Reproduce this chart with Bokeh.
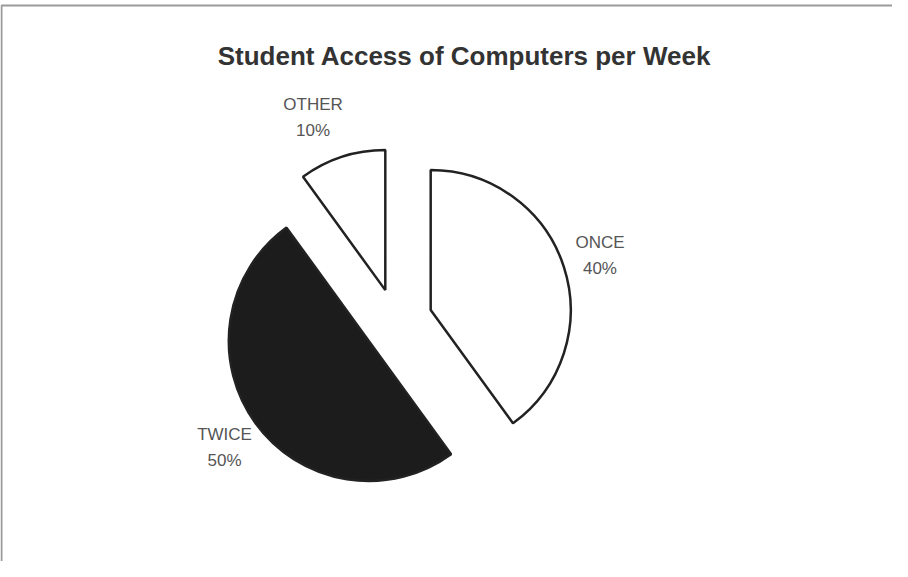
import math
from bokeh.plotting import figure
from bokeh.models import ColumnDataSource, Range1d
from bokeh.core.properties import value
from bokeh.embed import file_html
from bokeh.resources import INLINE

# ---- data ----
title = "Student Access of Computers per Week"
categories = ["ONCE", "TWICE", "OTHER"]
percents = [40, 50, 10]
fills = ["#ffffff", "#1c1c1c", "#ffffff"]

# ---- layout / style ----
W, H = 892, 561
cx, cy = 395, 240          # pie centre (data units = pixels)
radius = 140
explode = [37, 33, 33]
label_r = 215
label_dx = [0, 3, -16]

total = float(sum(percents))
starts, ends, xs, ys, lx, ly = [], [], [], [], [], []
cum = 0.0
for i, v in enumerate(percents):
    f0 = cum / total
    f1 = (cum + v) / total
    cum += v
    a_start = math.radians(90 - f1 * 360)
    a_end = math.radians(90 - f0 * 360)
    mid = (a_start + a_end) / 2
    starts.append(a_start)
    ends.append(a_end)
    xs.append(cx + explode[i] * math.cos(mid))
    ys.append(cy + explode[i] * math.sin(mid))
    lx.append(cx + label_r * math.cos(mid) + label_dx[i])
    ly.append(cy + label_r * math.sin(mid))

src = ColumnDataSource(dict(x=xs, y=ys, start=starts, end=ends, fill=fills,
                            cat=categories, pct=[f"{v}%" for v in percents],
                            lx=lx, ly_top=[y + 13 for y in ly], ly_bot=[y - 13 for y in ly]))

p = figure(width=W, height=H, output_backend="svg", toolbar_location=None,
           x_range=Range1d(0, W), y_range=Range1d(0, H), min_border=0)
p.axis.visible = False
p.grid.visible = False
p.outline_line_color = None
p.background_fill_color = "white"

# frame (top and left edges of the scanned box)
p.line([1, 1, W], [0, H - 5, H - 5], line_color="#9a9a9a", line_width=2)

p.wedge(x="x", y="y", radius=radius, start_angle="start", end_angle="end",
        fill_color="fill", line_color="#222222", line_width=2.5, source=src)

p.text(x="lx", y="ly_top", text="cat", source=src, text_align="center",
       text_baseline="middle", text_font=value("Liberation Sans"),
       text_font_size="17px", text_color="#555555")
p.text(x="lx", y="ly_bot", text="pct", source=src, text_align="center",
       text_baseline="middle", text_font=value("Liberation Sans"),
       text_font_size="17px", text_color="#555555")

p.text(x=[464], y=[506], text=[title], text_align="center", text_baseline="alphabetic",
       text_font=value("Liberation Sans"), text_font_style="bold",
       text_font_size="26px", text_color="#333333")

open("out.html", "w").write(file_html(p, INLINE))
